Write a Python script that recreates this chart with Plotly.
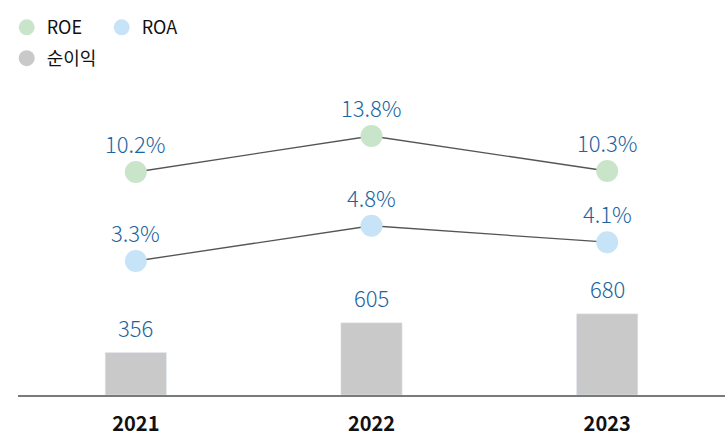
import plotly.graph_objects as go

years = ["2021", "2022", "2023"]
net_income = [356, 605, 680]
roe = [10.2, 13.8, 10.3]
roa = [3.3, 4.8, 4.1]
roe_labels = ["10.2%", "13.8%", "10.3%"]
roa_labels = ["3.3%", "4.8%", "4.1%"]
income_labels = ["356", "605", "680"]

GREEN = "#c9e5c9"
BLUE = "#c6e3f7"
GRAY = "#c8c9c8"
LABEL = "#1c64a0"
FONT = "Noto Sans CJK KR"

fig = go.Figure()

fig.add_trace(go.Bar(x=years, y=net_income, marker_color=GRAY, width=0.26,
                     showlegend=False, yaxis="y", hoverinfo="skip"))
fig.add_trace(go.Scatter(x=years, y=roe, mode="lines", showlegend=False,
                         line=dict(color="#555555", width=1.3), yaxis="y2"))
fig.add_trace(go.Scatter(x=years, y=roa, mode="lines", showlegend=False,
                         line=dict(color="#555555", width=1.3), yaxis="y3"))
fig.add_trace(go.Scatter(x=years, y=roe, mode="markers", name="ROE",
                         marker=dict(color=GREEN, size=22), yaxis="y2"))
fig.add_trace(go.Scatter(x=years, y=roa, mode="markers", name="ROA",
                         marker=dict(color=BLUE, size=22), yaxis="y3"))
# legend entry for net income (circle symbol)
fig.add_trace(go.Scatter(x=[None], y=[None], mode="markers", name="순이익",
                         marker=dict(color=GRAY, size=20), legend="legend2"))

lab_font = dict(size=22, color=LABEL, family=FONT, weight=300)
ann = []
for i, (v, t) in enumerate(zip(roe, roe_labels)):
    ann.append(dict(x=i, y=v, xref="x", yref="y2", text=t, showarrow=False,
                    yshift=29, font=lab_font))
for i, (v, t) in enumerate(zip(roa, roa_labels)):
    ann.append(dict(x=i, y=v, xref="x", yref="y3", text=t, showarrow=False,
                    yshift=29, font=lab_font))
for i, (v, t) in enumerate(zip(net_income, income_labels)):
    ann.append(dict(x=i, y=v, xref="x", yref="y", text=t, showarrow=False,
                    yshift=26, font=lab_font))

hidden = dict(visible=True, showticklabels=False, showgrid=False, zeroline=False,
              showline=False, ticks="")

fig.update_layout(
    width=725, height=437,
    margin=dict(l=18, r=0, t=80, b=42, autoexpand=False),
    paper_bgcolor="white", plot_bgcolor="white",
    font=dict(family=FONT, color="#111111"),
    annotations=ann,
    xaxis=dict(type="category", range=[-0.5, 2.5], showline=True, linecolor="#7a7a7a",
               linewidth=2, showgrid=False, zeroline=False, ticks="outside", ticklen=10,
               tickcolor="rgba(0,0,0,0)",
               tickfont=dict(size=20, color="#111111", family=FONT, weight="bold")),
    yaxis=dict(range=[0, 2640], **hidden),
    yaxis2=dict(range=[-12.1, 19.4], overlaying="y", **hidden),
    yaxis3=dict(range=[-2.4, 11.0], overlaying="y", **hidden),
    legend=dict(orientation="h", x=-0.016, y=1.225, xanchor="left", yanchor="top",
                font=dict(size=18, family=FONT, color="#111111"),
                itemsizing="trace", traceorder="normal", entrywidth=50),
    legend2=dict(orientation="h", x=-0.016, y=1.127, xanchor="left", yanchor="top",
                 font=dict(size=18, family=FONT, color="#111111"),
                 itemsizing="trace"),
)

fig.write_html("out.html", config={"displayModeBar": False},
               post_script="document.body.style.margin='0';")
